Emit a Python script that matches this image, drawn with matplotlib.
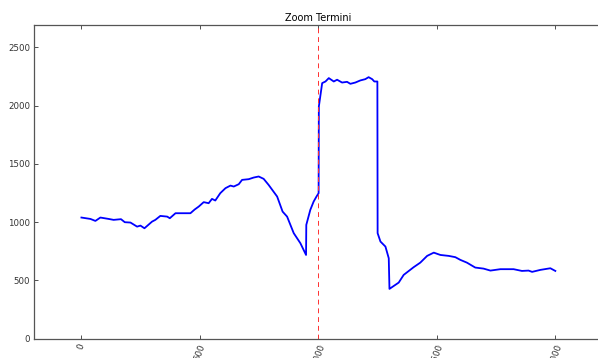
import matplotlib
matplotlib.use("Agg")
import matplotlib.pyplot as plt

# rough trace of the termini series (index, value)
idx = [0, 38, 59, 80, 115, 136, 167, 183, 207, 235, 249, 266, 298, 312, 333,
       362, 373, 397, 425, 460, 478, 495, 516, 537, 551, 565, 586, 608, 629,
       643, 664, 678, 706, 727, 748, 769, 790, 826, 849, 868, 896, 924, 948,
       949, 966, 980, 992, 1001, 1002, 1004, 1016, 1030, 1044, 1065, 1079,
       1100, 1121, 1135, 1156, 1177, 1198, 1212, 1227, 1236, 1249, 1250, 1262,
       1283, 1297, 1300, 1339, 1360, 1402, 1430, 1459, 1487, 1515, 1550, 1578,
       1599, 1627, 1662, 1697, 1726, 1768, 1824, 1859, 1887, 1902, 1937, 1979,
       2000]
vals = [1039, 1027, 1010, 1039, 1027, 1019, 1025, 999, 996, 961, 970, 947,
        1004, 1019, 1053, 1047, 1033, 1076, 1076, 1076, 1108, 1133, 1171, 1162,
        1199, 1185, 1248, 1291, 1313, 1305, 1325, 1362, 1368, 1382, 1391, 1371,
        1319, 1219, 1090, 1047, 905, 819, 718, 976, 1105, 1176, 1219, 1248,
        1991, 2020, 2192, 2206, 2235, 2206, 2221, 2197, 2203, 2186, 2197, 2215,
        2226, 2243, 2226, 2206, 2206, 905, 833, 790, 690, 427, 481, 547, 613,
        652, 710, 738, 718, 710, 699, 676, 652, 610, 601, 584, 596, 596, 581,
        584, 573, 590, 604, 581]
cut = 1000
xticks = [0, 500, 1000, 1500, 2000]
yticks = [0, 500, 1000, 1500, 2000, 2500]

fig = plt.figure(figsize=(5.98, 3.58), dpi=100)
# axes runs past the right edge, like the cropped original
ax = fig.add_axes([0.0569, 0.054, 0.951, 0.876])

ax.plot(idx, vals, color="b", lw=1.3)
ax.axvline(cut, color="#ff3030", linestyle="--", lw=0.7, dashes=(5, 4))

ax.set_xlim(-200, 2200)
ax.set_ylim(0, 2690)
ax.set_xticks(xticks)
ax.set_yticks(yticks)
ax.set_title("Zoom Termini", fontsize=7, pad=3)

ax.tick_params(direction="in", top=True, right=True, length=3, width=0.6,
               labelsize=6.2, colors="#333333", pad=3)
plt.setp(ax.get_xticklabels(), rotation=70)
for s in ax.spines.values():
    s.set_color("#555555")
    s.set_linewidth(0.9)
ax.spines["right"].set_visible(False)

fig.savefig("out.png", dpi=100)
